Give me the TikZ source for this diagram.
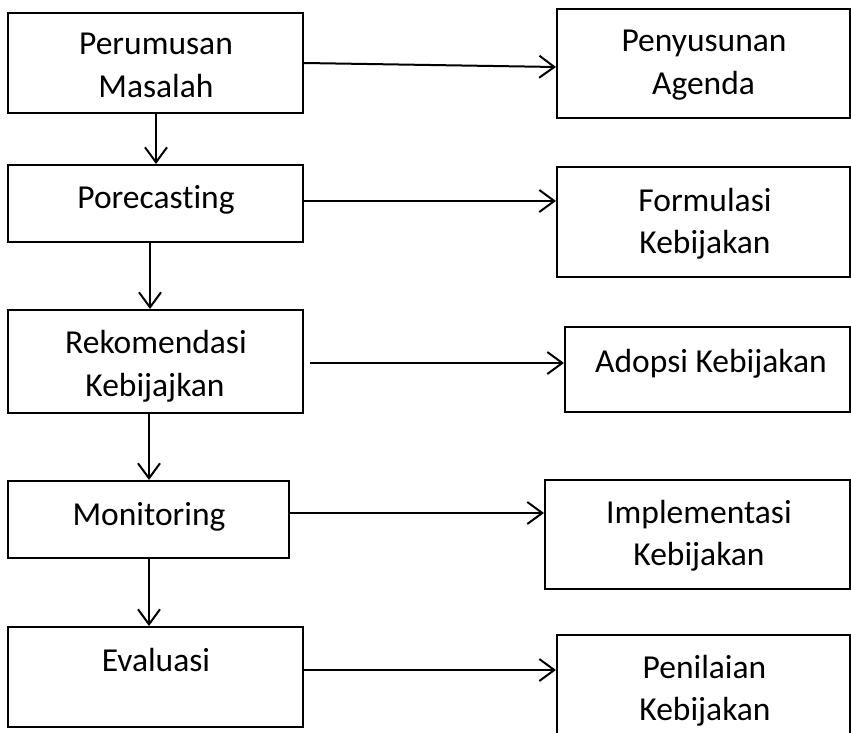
\documentclass[tikz,border=0pt]{standalone}
\usepackage{fontspec}
\setmainfont[Ligatures={NoCommon,NoContextual}]{Carlito}
\usetikzlibrary{arrows.meta}
\begin{document}
\begin{tikzpicture}[x=1pt,y=-1pt,
  box/.style={draw,line width=2pt,rectangle,inner sep=0pt},
  lbl/.style={font=\fontsize{33.5}{43}\selectfont,anchor=base,inner sep=0pt},
  arr/.style={line width=2pt,-{Straight Barb[length=15pt,width=22pt,line width=2pt]}}]
\fill[white] (0,0) rectangle (851,733);
\clip (0,0) rectangle (851,733);
% left column boxes
\node[box,minimum width=295pt,minimum height=100pt] (p1) at (155.5,63) {};
\node[box,minimum width=295pt,minimum height=77pt] (p2) at (155.5,203.5) {};
\node[box,minimum width=295pt,minimum height=103pt] (p3) at (155.5,361.5) {};
\node[box,minimum width=281pt,minimum height=77pt] (p4) at (148.5,519.5) {};
\node[box,minimum width=295pt,minimum height=100pt] (p5) at (155.5,677) {};
% right column boxes
\node[box,minimum width=293pt,minimum height=109pt] (q1) at (703.5,63.5) {};
\node[box,minimum width=293pt,minimum height=110pt] (q2) at (703.5,222) {};
\node[box,minimum width=285pt,minimum height=85pt] (q3) at (707.5,369.5) {};
\node[box,minimum width=305pt,minimum height=109pt] (q4) at (697.5,534.5) {};
\node[box,minimum width=293pt,minimum height=110pt] (q5) at (703.5,690) {};
% labels
\node[lbl] (t1a) at (156,55) {Perumusan};
\node[lbl] (t1b) at (156,98) {Masalah};
\node[lbl] (t2) at (156,208) {Porecasting};
\node[lbl] (t3a) at (156,353) {Rekomendasi};
\node[lbl] (t3b) at (155,396) {Kebijajkan};
\node[lbl] (t4) at (149,525) {Monitoring};
\node[lbl] (t5) at (156,671) {Evaluasi};
\node[lbl] (u1a) at (704,52) {Penyusunan};
\node[lbl] (u1b) at (703.5,95) {Agenda};
\node[lbl] (u2a) at (705,211) {Formulasi};
\node[lbl] (u2b) at (705,253) {Kebijakan};
\node[lbl] (u3) at (711,372) {Adopsi Kebijakan};
\node[lbl] (u4a) at (699,523) {Implementasi};
\node[lbl] (u4b) at (699,565) {Kebijakan};
\node[lbl] (u5a) at (704.5,678) {Penilaian};
\node[lbl] (u5b) at (705,720) {Kebijakan};
% level coordinates
\coordinate (h1s) at (0,63);
\coordinate (h1e) at (0,67);
\coordinate (h2) at (0,201);
\coordinate (s3) at (310,363);
\coordinate (h4) at (0,513);
\coordinate (h5) at (0,670);
\coordinate (v1) at (156,0);
\coordinate (v2) at (150,0);
\coordinate (v3) at (149,0);
% horizontal connectors
\draw[arr] (p1.east |- h1s) -- (q1.west |- h1e);
\draw[arr] (p2.east |- h2) -- (q2.west |- h2);
\draw[arr] (s3) -- (q3.west |- s3);
\draw[arr] (p4.east |- h4) -- (q4.west |- h4);
\draw[arr] (p5.east |- h5) -- (q5.west |- h5);
% vertical connectors
\draw[arr] (p1.south -| v1) -- (p2.north -| v1);
\draw[arr] (p2.south -| v2) -- (p3.north -| v2);
\draw[arr] (p3.south -| v3) -- (p4.north -| v3);
\draw[arr] (p4.south -| v3) -- (p5.north -| v3);
\end{tikzpicture}
\end{document}
